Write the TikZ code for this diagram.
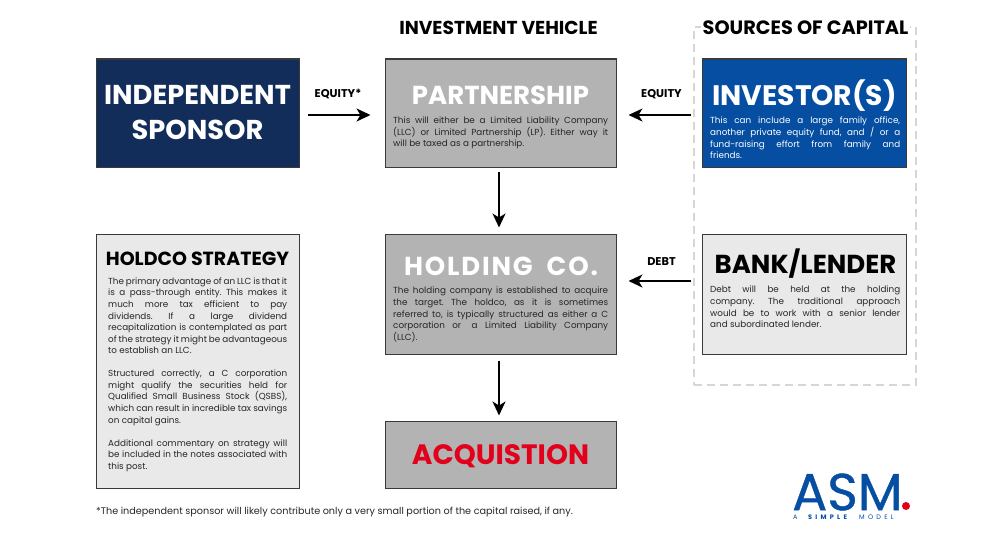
\documentclass[tikz,border=0pt]{standalone}
\usepackage{fontspec}
\setmainfont{Poppins}
\usepackage{tikz}
\usetikzlibrary{arrows.meta}
\definecolor{navyfill}{HTML}{132D5B}
\definecolor{bluefill}{HTML}{054EA2}
\definecolor{greyfill}{HTML}{B3B3B3}
\definecolor{lightfill}{HTML}{E9E9E9}
\definecolor{acqred}{HTML}{E2001A}
\definecolor{dashgrey}{HTML}{D6D6D6}
\definecolor{edgegrey}{HTML}{3A3A3A}
\definecolor{bodygrey}{HTML}{262626}
\frenchspacing

\begin{document}
\begin{tikzpicture}[x=1pt,y=-1pt,
	box_node/.style={rectangle,draw=edgegrey,line width=1pt,inner sep=0pt,minimum width=#1},
	box_node/.default=203pt,
	title_node/.style={inner sep=0pt,align=center,font=\fontsize{26}{35}\selectfont\bfseries},
	head_node/.style={inner sep=0pt,font=\fontsize{18.7}{21}\selectfont\bfseries,text=black},
	body_node/.style={inner sep=0pt,anchor=north west,align=justify,text=bodygrey,font=\fontsize{8.8}{11.55}\selectfont},
	tag_node/.style={inner sep=0pt,font=\fontsize{11.3}{13}\selectfont\bfseries,text=black},
	logo_node/.style={inner sep=0pt,anchor=west,text=bluefill,font=\fontsize{6.5}{7}\selectfont\addfontfeatures{LetterSpace=50}},
	flow_line/.style={-{Stealth[length=14pt,width=13pt,inset=4pt]},line width=2pt,black}]
	    \useasboundingbox (0,0) rectangle (1000,535);
	    \node[rectangle,draw=dashgrey,line width=2pt,dash pattern=on 8pt off 5pt,minimum width=222pt,minimum height=358pt] (capital_box) at (805,206) {};
	    \node[head_node,fill=white,inner xsep=2pt,font=\fontsize{19.3}{21}\selectfont\bfseries] (sources_head) at (805.5,28) {SOURCES OF CAPITAL};
	    \node[head_node] (vehicle_head) at (498.5,28) {INVESTMENT VEHICLE};

	    \node[box_node,fill=navyfill,minimum height=108pt] (sponsor) at (197.5,113) {};
	    \node[box_node=231pt,fill=greyfill,minimum height=108pt] (partnership) at (500.5,113) {};
	    \node[box_node=204pt,fill=bluefill,minimum height=108pt] (investor) at (804,113) {};
	    \node[box_node=204pt,fill=lightfill,minimum height=120pt] (lender) at (804,294) {};
	    \node[box_node=231pt,fill=greyfill,minimum height=120pt] (holding) at (500.5,294) {};
	    \node[box_node,fill=lightfill,minimum height=254pt] (strategy) at (197.5,361) {};
	    \node[box_node=231pt,fill=greyfill,minimum height=67pt] (acquisition) at (500.5,454.5) {};

	    \node[title_node,text=white,font=\fontsize{27.3}{35}\selectfont\bfseries] (sponsor_title) at (197.5,113) {INDEPENDENT\\SPONSOR};
	    \node[title_node,text=white] (partnership_title) at (500.5,95) {PARTNERSHIP};
	    \node[title_node,text=white,font=\fontsize{28.2}{35}\selectfont\bfseries] (investor_title) at (804.5,96) {INVESTOR(S)};
	    \node[title_node,text=black] (lender_title) at (805.5,264) {BANK/LENDER};
	    \node[title_node,text=white,font=\fontsize{26}{35}\selectfont\bfseries\addfontfeatures{LetterSpace=7}] (holding_title) at (501,266) {HOLDING\hspace{14pt}CO.};
	    \node[title_node,text=black,font=\fontsize{19}{24}\selectfont\bfseries] (strategy_title) at (197.5,259) {HOLDCO STRATEGY};
	    \node[title_node,text=acqred,font=\fontsize{28}{35}\selectfont\bfseries] (acquisition_title) at (500.5,456.5) {ACQUISTION};

	    \node[body_node,text width=215pt] (partnership_text) at (393,117) {This will either be a Limited Liability Company\linebreak (LLC) or Limited Partnership (LP). Either way it\linebreak will be taxed as a partnership.};
	    \node[body_node,text=white,text width=190pt] (investor_text) at (710,117) {This can include a large family office,\linebreak another private equity fund, and / or a\linebreak fund-raising effort from family and\linebreak friends.};
	    \node[body_node,text width=190pt] (lender_text) at (710,286) {Debt will be held at the holding\linebreak company. The traditional approach\linebreak would be to work with a senior lender\linebreak and subordinated lender.};
	    \node[body_node,text width=215pt] (holding_text) at (393,287) {The holding company is established to acquire\linebreak the target. The holdco, as it is sometimes\linebreak referred to, is typically structured as either a C\linebreak corporation or\hspace{3pt} a Limited Liability Company\linebreak (LLC).};
	    \node[body_node,text width=179pt] (strategy_text) at (108,277.5) {The primary advantage of an LLC is that it\linebreak is a pass-through entity. This makes it\linebreak much more tax efficient to pay\linebreak dividends. If a large dividend\linebreak recapitalization is contemplated as part\linebreak of the strategy it might be advantageous\linebreak to establish an LLC.\\[11.55pt]Structured correctly, a C corporation\linebreak might qualify the securities held for\linebreak Qualified Small Business Stock (QSBS),\linebreak which can result in incredible tax savings\linebreak on capital gains.\\[11.55pt]Additional commentary on strategy will\linebreak be included in the notes associated with\linebreak this post.};

	    \node[tag_node] (equity_left) at (338,94) {EQUITY*};
	    \node[tag_node] (equity_right) at (661.5,94) {EQUITY};
	    \node[tag_node] (debt_tag) at (661.5,262) {DEBT};

	    \draw[flow_line,shorten <=8pt,shorten >=14pt] ([yshift=-2pt]sponsor.east) -- ([yshift=-2pt]partnership.west);
	    \draw[flow_line,shorten <=11pt,shorten >=12pt] ([yshift=-2pt]investor.west) -- ([yshift=-2pt]partnership.east);
	    \draw[flow_line,shorten <=11pt,shorten >=12pt] ([yshift=13pt]lender.west) -- ([yshift=13pt]holding.east);
	    \draw[flow_line,shorten <=4pt,shorten >=6pt] ([xshift=-1.5pt]partnership.south) -- ([xshift=-1.5pt]holding.north);
	    \draw[flow_line,shorten <=6pt,shorten >=5pt] ([xshift=-1.5pt]holding.south) -- ([xshift=-1.5pt]acquisition.north);

	    \node[inner sep=0pt,anchor=west,text=bodygrey,font=\fontsize{9.65}{11}\selectfont] (footnote) at (96,512) {*The independent sponsor will likely contribute only a very small portion of the capital raised, if any.};

	    \node[inner sep=0pt,anchor=west,text=bluefill,font=\fontsize{52}{52}\selectfont\addfontfeatures{FakeBold=0.8}] (logo_mark) at (792,492) {ASM};
	    \node[circle,fill=acqred,inner sep=0pt,minimum size=8pt] (logo_dot) at (906,506) {};
	    \node[logo_node] (logo_a) at (793,517) {A};
	    \node[logo_node,font=\fontsize{6.5}{7}\selectfont\bfseries\addfontfeatures{LetterSpace=50}] (logo_simple) at (808,517) {SIMPLE};
	    \node[logo_node] (logo_model) at (859,517) {MODEL};
    \end{tikzpicture}
\end{document}
